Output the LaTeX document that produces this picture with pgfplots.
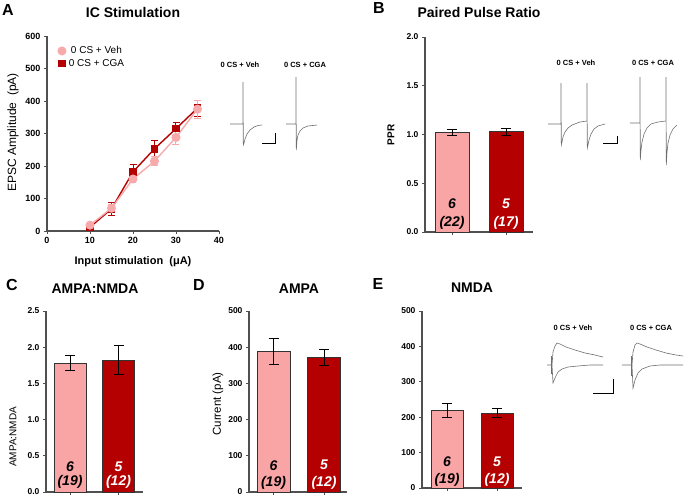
\documentclass[border=0pt]{standalone}
\usepackage{pgfplots}
\pgfplotsset{compat=1.18}
\usepackage{fontspec}
\setmainfont{Liberation Sans}
\definecolor{pinkc}{RGB}{250,165,165}
\definecolor{redc}{RGB}{180,0,0}
\definecolor{pinkm}{RGB}{246,170,172}
\definecolor{axgray}{RGB}{80,80,80}
\definecolor{trc}{RGB}{110,110,110}
\tikzset{nlab/.style={font=\bfseries\itshape\fontsize{14}{15}\selectfont}}
\pgfplotsset{
  panel/.style={
    scale only axis, anchor=south west, clip=false,
    axis x line*=bottom, axis y line*=left,
    axis line style={-, line width=1.1pt, draw=axgray},
    tick style={line width=0.9pt, draw=axgray},
    tick align=outside, major tick length=3pt,
    ticklabel style={font=\bfseries\fontsize{8.5}{9}\selectfont},
    /pgf/number format/assume math mode=true,
  },
  barpanel/.style={panel, ybar, ymin=0, xtick={1,2}, xticklabels={}, xmin=0.5, xmax=2.5,
    minor tick num=0},
  barA/.style={fill=pinkc, draw=black!80, line width=0.8pt, bar shift=0pt,
    error bars/.cd, y dir=both, y explicit,
    error bar style={black, line width=0.9pt},
    error mark options={rotate=90, black, mark size=5pt, line width=0.9pt}},
  barB/.style={fill=redc, draw=black!80, line width=0.8pt, bar shift=0pt,
    error bars/.cd, y dir=both, y explicit,
    error bar style={black, line width=0.9pt},
    error mark options={rotate=90, black, mark size=5pt, line width=0.9pt}},
}
\begin{document}
\begin{tikzpicture}
\useasboundingbox (0,0) rectangle (688pt,496pt);

% ---------- Panel A ----------
\begin{axis}[panel, at={(47pt,265pt)}, width=172pt, height=195pt,
  xmin=0, xmax=40, ymin=0, ymax=600,
  xtick={0,10,20,30,40}, ytick={0,100,...,600},
  ticklabel style={font=\bfseries\fontsize{9}{10}\selectfont},
  legend style={draw=none, fill=none, at={(0.058,0.962)}, anchor=north west,
    font=\fontsize{10}{11}\selectfont, row sep=0pt, inner sep=1pt,
    nodes={inner xsep=3pt}},
  legend image code/.code={\draw[mark repeat=2,mark phase=2,#1] plot coordinates {(0.09cm,0cm) (0.1cm,0cm) (0.11cm,0cm)};},
  reverse legend]
\addplot[redc, line width=1.4pt, mark=square*, mark size=3.1pt, mark options={fill=redc, draw=redc},
  error bars/.cd, y dir=both, y explicit,
  error bar style={redc, line width=1pt},
  error mark options={rotate=90, redc, mark size=3.5pt, line width=1pt}]
  coordinates {(10,12) +- (0,3) (15,68) +- (0,20) (20,182) +- (0,22) (25,253) +- (0,25) (30,315) +- (0,20) (35,378) +- (0,25)};
\addlegendentry{0 CS + CGA}
\addplot[pinkm, line width=1.4pt, mark=*, mark size=3.8pt, mark options={fill=pinkm, draw=pinkm},
  error bars/.cd, y dir=both, y explicit,
  error bar style={pinkm, line width=1pt},
  error mark options={rotate=90, pinkm, mark size=3.5pt, line width=1pt}]
  coordinates {(10,18) +- (0,5) (15,70) +- (0,12) (20,160) +- (0,12) (25,215) +- (0,15) (30,288) +- (0,22) (35,375) +- (0,28)};
\addlegendentry{0 CS + Veh}
\end{axis}

% ---------- Panel B ----------
\begin{axis}[barpanel, at={(425pt,264pt)}, width=108pt, height=195pt,
  ymax=2, ytick={0,0.5,...,2},
  yticklabel style={/pgf/number format/fixed, /pgf/number format/fixed zerofill, /pgf/number format/precision=1},
  bar width=34pt]
\addplot[barA] coordinates {(1,1.02) +- (0,0.03)};
\addplot[barB] coordinates {(2,1.03) +- (0,0.035)};
\node[nlab] at (axis cs:1,0.287) {6};
\node[nlab] at (axis cs:1,0.092) {(22)};
\node[nlab, white] at (axis cs:2,0.287) {5};
\node[nlab, white] at (axis cs:2,0.092) {(17)};
\end{axis}

% ---------- Panel C ----------
\begin{axis}[barpanel, at={(46pt,4pt)}, width=97pt, height=181pt,
  ymax=2.5, ytick={0,0.5,...,2.5}, xmin=0.505, xmax=2.505,
  yticklabel style={/pgf/number format/fixed, /pgf/number format/fixed zerofill, /pgf/number format/precision=1},
  bar width=32pt]
\addplot[barA] coordinates {(1,1.78) +- (0,0.1)};
\addplot[barB] coordinates {(2,1.82) +- (0,0.2)};
\node[nlab] at (axis cs:1,0.345) {6};
\node[nlab] at (axis cs:1,0.138) {(19)};
\node[nlab, white] at (axis cs:2,0.345) {5};
\node[nlab, white] at (axis cs:2,0.138) {(12)};
\end{axis}

% ---------- Panel D ----------
\begin{axis}[barpanel, at={(249pt,4pt)}, width=98pt, height=181pt,
  ymax=500, ytick={0,100,...,500}, xmin=0.515, xmax=2.455,
  bar width=33pt]
\addplot[barA] coordinates {(1,388) +- (0,35)};
\addplot[barB] coordinates {(2,372) +- (0,22)};
\node[nlab] at (axis cs:1,74) {6};
\node[nlab] at (axis cs:1,26) {(19)};
\node[nlab, white] at (axis cs:2,74) {5};
\node[nlab, white] at (axis cs:2,26) {(12)};
\end{axis}

% ---------- Panel E ----------
\begin{axis}[barpanel, at={(422pt,8pt)}, width=100pt, height=177pt,
  ymax=500, ytick={0,100,...,500},
  bar width=32pt]
\addplot[barA] coordinates {(1,220) +- (0,20)};
\addplot[barB] coordinates {(2,212) +- (0,12)};
\node[nlab] at (axis cs:1,73) {6};
\node[nlab] at (axis cs:1,24) {(19)};
\node[nlab, white] at (axis cs:2,73) {5};
\node[nlab, white] at (axis cs:2,24) {(12)};
\end{axis}

% ---------- Traces (pixel-coordinate overlay axis) ----------
\begin{axis}[at={(0pt,0pt)}, anchor=south west, scale only axis, width=688pt, height=496pt,
  xmin=0, xmax=688, ymin=0, ymax=496, y dir=reverse, hide axis, clip=false]
% A traces
\addplot[trc, line width=0.6pt] coordinates {(230,124) (243,124) (243,82) (243.3,145) (244,143) (245,139) (247,134) (250,130) (254,127) (258,125.5) (262,125)};
\addplot[trc, line width=0.6pt] coordinates {(286,124) (296,124) (296,77) (296.3,150) (297,140) (298,135) (300,131) (303,128) (308,126) (317,125)};
\addplot[black, line width=1pt] coordinates {(262,143) (275,143) (275,133)};
% B traces
\addplot[trc, line width=0.6pt] coordinates {(548,124) (561,124) (561,83) (561.3,145) (562,142) (563,137) (565,132) (568,128) (572,125) (580,122) (587,121) (587,83) (587.3,148) (588,145) (589,140) (591,134) (594,129) (598,126) (605,124)};
\addplot[trc, line width=0.6pt] coordinates {(630,123) (640,123) (640,77) (640.3,160) (641,150) (642,142) (644,134) (647,128) (651,124) (658,122) (666,121) (666,77) (666.3,165) (667,152) (668,143) (670,135) (673,129) (677,125)};
\addplot[black, line width=1pt] coordinates {(603,143) (617,143) (617,136)};
% E traces
\addplot[trc, line width=0.6pt] coordinates {(547,365) (552,365) (553,352) (555,346) (557,343) (560,344) (566,347) (575,350) (585,353) (595,355) (603,357)};
\addplot[trc, line width=0.6pt] coordinates {(552,365) (553,383) (555,378) (558,372) (562,369) (568,367) (578,366) (590,365) (603,365)};
\addplot[trc, line width=0.6pt] coordinates {(551,356) (551,374)};
\addplot[trc, line width=0.6pt] coordinates {(622,365) (632,365) (633,352) (635,345) (637,343) (640,344) (647,347) (656,350) (666,353) (676,355) (683,356)};
\addplot[trc, line width=0.6pt] coordinates {(632,365) (633,388) (635,380) (638,373) (642,369) (650,366) (660,365) (683,365)};
\addplot[trc, line width=0.6pt] coordinates {(631,356) (631,376)};
\addplot[black, line width=1pt] coordinates {(593,393) (613,393) (613,379)};
\end{axis}

% ---------- Text ----------
\tikzset{plet/.style={font=\bfseries\fontsize{16}{18}\selectfont},
  ptit/.style={font=\bfseries\fontsize{14}{16}\selectfont},
  tlab/.style={font=\bfseries\fontsize{7.5}{9}\selectfont}}
\node[plet] at (8pt,486pt) {A};
\node[ptit] at (133pt,484pt) {IC Stimulation};
\node[plet] at (379pt,488pt) {B};
\node[ptit] at (479pt,484pt) {Paired Pulse Ratio};
\node[plet] at (12pt,211pt) {C};
\node[ptit] at (95pt,207pt) {AMPA:NMDA};
\node[plet] at (199pt,211pt) {D};
\node[ptit] at (299pt,207pt) {AMPA};
\node[plet] at (378pt,212pt) {E};
\node[ptit] at (472pt,208pt) {NMDA};
\node[rotate=90, font=\fontsize{12}{14}\selectfont] at (13pt,363.5pt) {EPSC Amplitude\ \ (pA)};
\node[font=\bfseries\fontsize{11}{13}\selectfont] at (133pt,234pt) {Input stimulation\ \ (μA)};
\node[rotate=90, font=\bfseries\fontsize{10}{12}\selectfont] at (391pt,361pt) {PPR};
\node[rotate=90, font=\fontsize{10}{12}\selectfont] at (13pt,59pt) {AMPA:NMDA};
\node[rotate=90, font=\fontsize{11.5}{13}\selectfont] at (218pt,92pt) {Current (pA)};
\node[tlab] at (240pt,431pt) {0 CS + Veh};
\node[tlab] at (305pt,431pt) {0 CS + CGA};
\node[tlab] at (576pt,433pt) {0 CS + Veh};
\node[tlab] at (653pt,433pt) {0 CS + CGA};
\node[tlab] at (573pt,168pt) {0 CS + Veh};
\node[tlab] at (651pt,168pt) {0 CS + CGA};
\end{tikzpicture}
\end{document}
